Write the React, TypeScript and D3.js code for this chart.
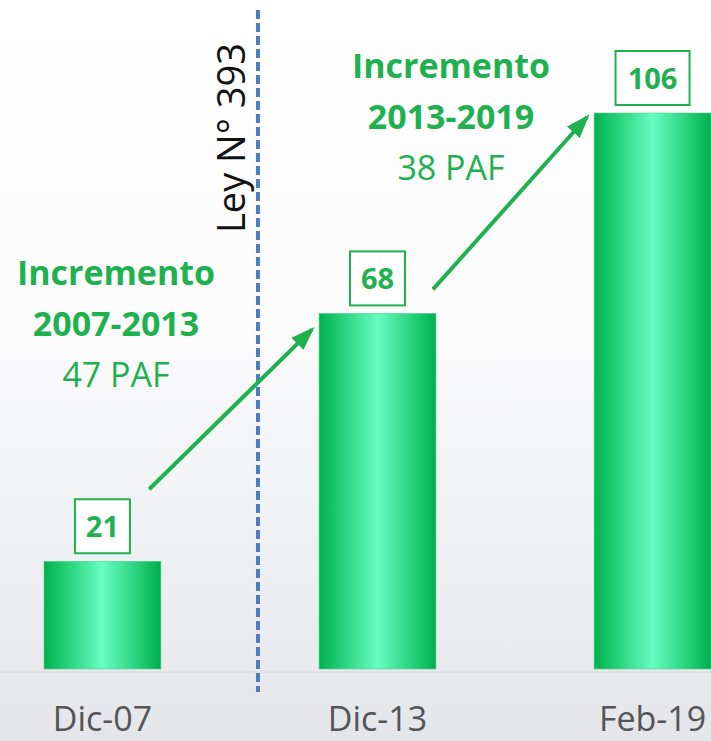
import React from "react";
import * as d3 from "d3";

const categories = ["Dic-07", "Dic-13", "Feb-19"];
const values = [21, 68, 106];
const increments = [
  { title: "Incremento", period: "2007-2013", amount: "47 PAF" },
  { title: "Incremento", period: "2013-2019", amount: "38 PAF" },
];
const lawLabel = "Ley N° 393";

const W = 711;
const H = 741;
const GREEN = "#1fb150";
const FONT = "'Open Sans', sans-serif";

export default function App() {
  const x = d3
    .scaleBand<string>()
    .domain(categories)
    .range([44, 711])
    .paddingInner(0.575)
    .paddingOuter(0);
  const y = d3.scaleLinear().domain([0, 106]).range([672, 113]);
  const bw = x.bandwidth();
  const base = y(0);

  const cx = (c: string) => (x(c) as number) + bw / 2;
  const lawX = ((x(categories[0]) as number) + bw + (x(categories[1]) as number)) / 2 + 18;

  // arrow layout offsets (start relative to bar i, tip relative to bar i+1)
  const arrowOffsets = [
    { sx: bw * 0.9, sy: -72, tx: -7, ty: 16 },
    { sx: bw - 3, sy: -24, tx: -7, ty: 4 },
  ];
  const arrows = arrowOffsets.map((o, i) => {
    const a = categories[i];
    const b = categories[i + 1];
    return {
      x1: (x(a) as number) + o.sx,
      y1: y(values[i]) + o.sy,
      x2: (x(b) as number) + o.tx,
      y2: y(values[i + 1]) + o.ty,
    };
  });

  const textBlocks = [
    { cx: 116, top: 285 },
    { cx: 451, top: 78 },
  ];

  return (
    <svg
      width={W}
      height={H}
      style={{ position: "absolute", left: 0, top: 0, display: "block" }}
    >
      <defs>
        <linearGradient id="bg" x1="0" y1="0" x2="0" y2="1">
          <stop offset="0" stopColor="#ffffff" />
          <stop offset="0.45" stopColor="#fbfbfc" />
          <stop offset="0.9" stopColor="#e8eaee" />
          <stop offset="1" stopColor="#e3e5e9" />
        </linearGradient>
        <linearGradient id="bar" x1="0" y1="0" x2="1" y2="0">
          <stop offset="0" stopColor="#00b14f" />
          <stop offset="0.2" stopColor="#27d17a" />
          <stop offset="0.5" stopColor="#66fdc3" />
          <stop offset="0.8" stopColor="#27d17a" />
          <stop offset="1" stopColor="#00ae4d" />
        </linearGradient>
        <marker
          id="ah"
          viewBox="0 0 14 10"
          refX="12"
          refY="5"
          markerWidth="6"
          markerHeight="4.5"
          orient="auto"
        >
          <path d="M0,0 L14,5 L0,10 z" fill={GREEN} />
        </marker>
      </defs>
      <rect x={0} y={0} width={W} height={H} fill="url(#bg)" />
      <line x1={0} x2={W} y1={base} y2={base} stroke="#d6d8dc" strokeWidth={1} />

      {categories.map((c, i) => (
        <g key={c}>
          <rect
            x={x(c)}
            y={y(values[i])}
            width={bw}
            height={base - 3 - y(values[i])}
            fill="url(#bar)"
            stroke="#5ad08a"
            strokeWidth={0.6}
          />
          {(() => {
            const label = String(values[i]);
            const bwBox = label.length > 2 ? 74 : 55;
            const bh = 54;
            const by = y(values[i]) - 8 - bh;
            return (
              <g>
                <rect
                  x={cx(c) - bwBox / 2}
                  y={by}
                  width={bwBox}
                  height={bh}
                  fill="#ffffff"
                  stroke={GREEN}
                  strokeWidth={2}
                />
                <text
                  x={cx(c)}
                  y={by + bh / 2 + 10.5}
                  textAnchor="middle"
                  fontFamily={FONT}
                  fontWeight={700}
                  fontSize={29}
                  fill={GREEN}
                >
                  {label}
                </text>
              </g>
            );
          })()}
          <text
            x={cx(c)}
            y={731}
            textAnchor="middle"
            fontFamily={FONT}
            fontSize={34}
            fill="#555555"
          >
            {c}
          </text>
        </g>
      ))}

      <line
        x1={lawX}
        x2={lawX}
        y1={10}
        y2={692}
        stroke="#4a7ebf"
        strokeWidth={4}
        strokeDasharray="9,4"
      />
      <text
        transform={`translate(${lawX - 13},${138}) rotate(-90)`}
        textAnchor="middle"
        fontFamily={FONT}
        fontSize={38}
        fill="#111111"
      >
        {lawLabel}
      </text>

      {arrows.map((a, i) => (
        <line
          key={i}
          x1={a.x1}
          y1={a.y1}
          x2={a.x2}
          y2={a.y2}
          stroke={GREEN}
          strokeWidth={4}
          markerEnd="url(#ah)"
        />
      ))}

      {increments.map((t, i) => (
        <g key={i} fontFamily={FONT} fill={GREEN} textAnchor="middle">
          <text x={textBlocks[i].cx} y={textBlocks[i].top} fontSize={34} fontWeight={700}>
            {t.title}
          </text>
          <text x={textBlocks[i].cx} y={textBlocks[i].top + 51} fontSize={34} fontWeight={700}>
            {t.period}
          </text>
          <text x={textBlocks[i].cx} y={textBlocks[i].top + 102} fontSize={34}>
            {t.amount}
          </text>
        </g>
      ))}
    </svg>
  );
}
